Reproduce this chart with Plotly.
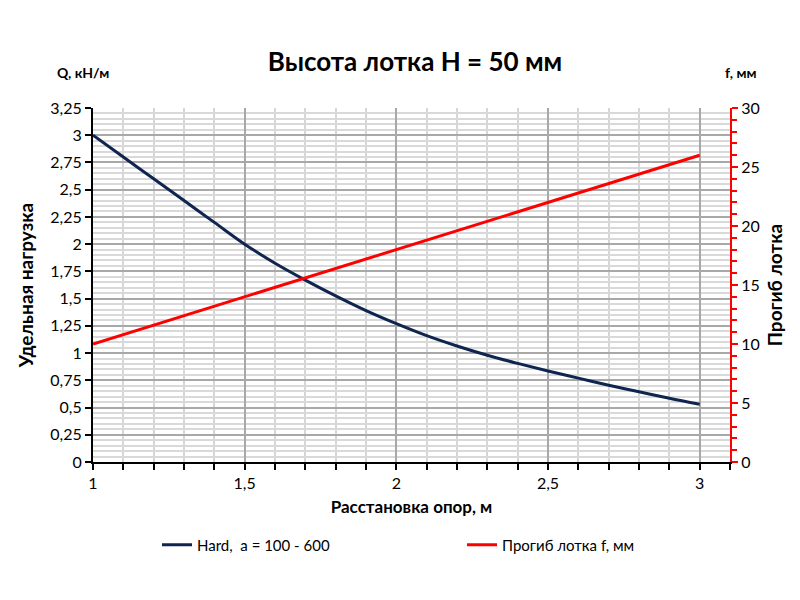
import plotly.graph_objects as go

# Расстановка опор, м
spacing = [1.0, 1.1, 1.2, 1.3, 1.4, 1.5, 1.6, 1.7, 1.8, 1.9, 2.0,
           2.1, 2.2, 2.3, 2.4, 2.5, 2.6, 2.7, 2.8, 2.9, 3.0]
# Удельная нагрузка Q, кН/м (Hard, a = 100 - 600)
load_q = [3.0, 2.8, 2.6, 2.4, 2.2, 2.0, 1.825, 1.67, 1.525, 1.39, 1.27,
          1.16, 1.065, 0.98, 0.905, 0.835, 0.77, 0.705, 0.645, 0.585, 0.53]
# Прогиб лотка f, мм
defl_x = [1.0, 3.0]
defl_f = [10, 26]

FONT = "Lato, 'Open Sans', sans-serif"
NAVY = "#0f2550"
RED = "#ff0000"
OFF = 8  # page body margin of the html

fig = go.Figure()
fig.add_trace(go.Scatter(
    x=spacing, y=load_q, mode="lines", name="Hard,  a = 100 - 600",
    line=dict(color=NAVY, width=3, shape="spline"), yaxis="y", legend="legend"
))
fig.add_trace(go.Scatter(
    x=defl_x, y=defl_f, mode="lines", name="Прогиб лотка f, мм",
    line=dict(color=RED, width=3), yaxis="y2", legend="legend2"
))

# paper coords from screen px (plot area 93..730 x 108..462 on screen)
def px(x):
    return (x - 93) / 637

def py(y):
    return (462 - y) / 354

fig.update_layout(
    width=800, height=600,
    margin=dict(l=93 - OFF, r=800 - (730 - OFF), t=108 - OFF, b=600 - (462 - OFF)),
    paper_bgcolor="white", plot_bgcolor="white",
    font=dict(family=FONT, size=16, color="black"),
    separators=", ",
    showlegend=True,
    title=dict(text="<b>Высота лотка H = 50 мм</b>", x=(415 - OFF) / 800,
               xanchor="center", y=1 - (62 - OFF) / 600, yanchor="middle",
               font=dict(size=26, family=FONT)),
    xaxis=dict(
        range=[1, 3.1], tickvals=[1, 1.5, 2, 2.5, 3],
        ticktext=["1", "1,5", "2", "2,5", "3"],
        ticks="outside", ticklen=6, tickwidth=2, tickcolor="black",
        showline=True, linecolor="black", linewidth=2,
        showgrid=True, gridcolor="#a8a8a8", gridwidth=1.5,
        zeroline=False, automargin=False,
        minor=dict(dtick=0.1, tick0=1, ticks="outside", ticklen=6, tickwidth=2,
                   tickcolor="black", showgrid=True, gridcolor="#d6d6d6"),
        title=dict(text="<b>Расстановка опор, м</b>", standoff=10,
                   font=dict(size=17)),
    ),
    yaxis=dict(
        range=[0, 3.25], dtick=0.25, tick0=0,
        ticks="outside", ticklen=6, tickwidth=2, tickcolor="black",
        showline=True, linecolor="black", linewidth=2,
        showgrid=True, gridcolor="#a8a8a8", gridwidth=1.5,
        zeroline=False, automargin=False,
        minor=dict(dtick=0.05, showgrid=True, gridcolor="#d9d9d9"),
        title=dict(text="<b>Удельная нагрузка</b>", standoff=12,
                   font=dict(size=19)),
    ),
    yaxis2=dict(
        range=[0, 30], dtick=5, tick0=0, overlaying="y", side="right",
        ticks="outside", ticklen=6, tickwidth=2, tickcolor=RED,
        showline=True, linecolor=RED, linewidth=2,
        showgrid=False, zeroline=False, automargin=False,
        minor=dict(dtick=1, ticks="outside", ticklen=5, tickwidth=2,
                   tickcolor=RED, showgrid=False),
        title=dict(text="<b>Прогиб лотка</b>", standoff=10,
                   font=dict(size=19)),
    ),
    legend=dict(
        orientation="h", x=px(157), xanchor="left",
        y=py(545), yanchor="middle",
        font=dict(size=15), bgcolor="rgba(0,0,0,0)",
    ),
    legend2=dict(
        orientation="h", x=px(462), xanchor="left",
        y=py(545), yanchor="middle",
        font=dict(size=15), bgcolor="rgba(0,0,0,0)",
    ),
    annotations=[
        dict(text="<b>Q, кН/м</b>", xref="paper", yref="paper",
             x=px(83), y=py(73), xanchor="center",
             yanchor="middle", showarrow=False, font=dict(size=14)),
        dict(text="<b>f, мм</b>", xref="paper", yref="paper",
             x=px(740), y=py(73), xanchor="center",
             yanchor="middle", showarrow=False, font=dict(size=14)),
    ],
)

fig.write_html("out.html")
